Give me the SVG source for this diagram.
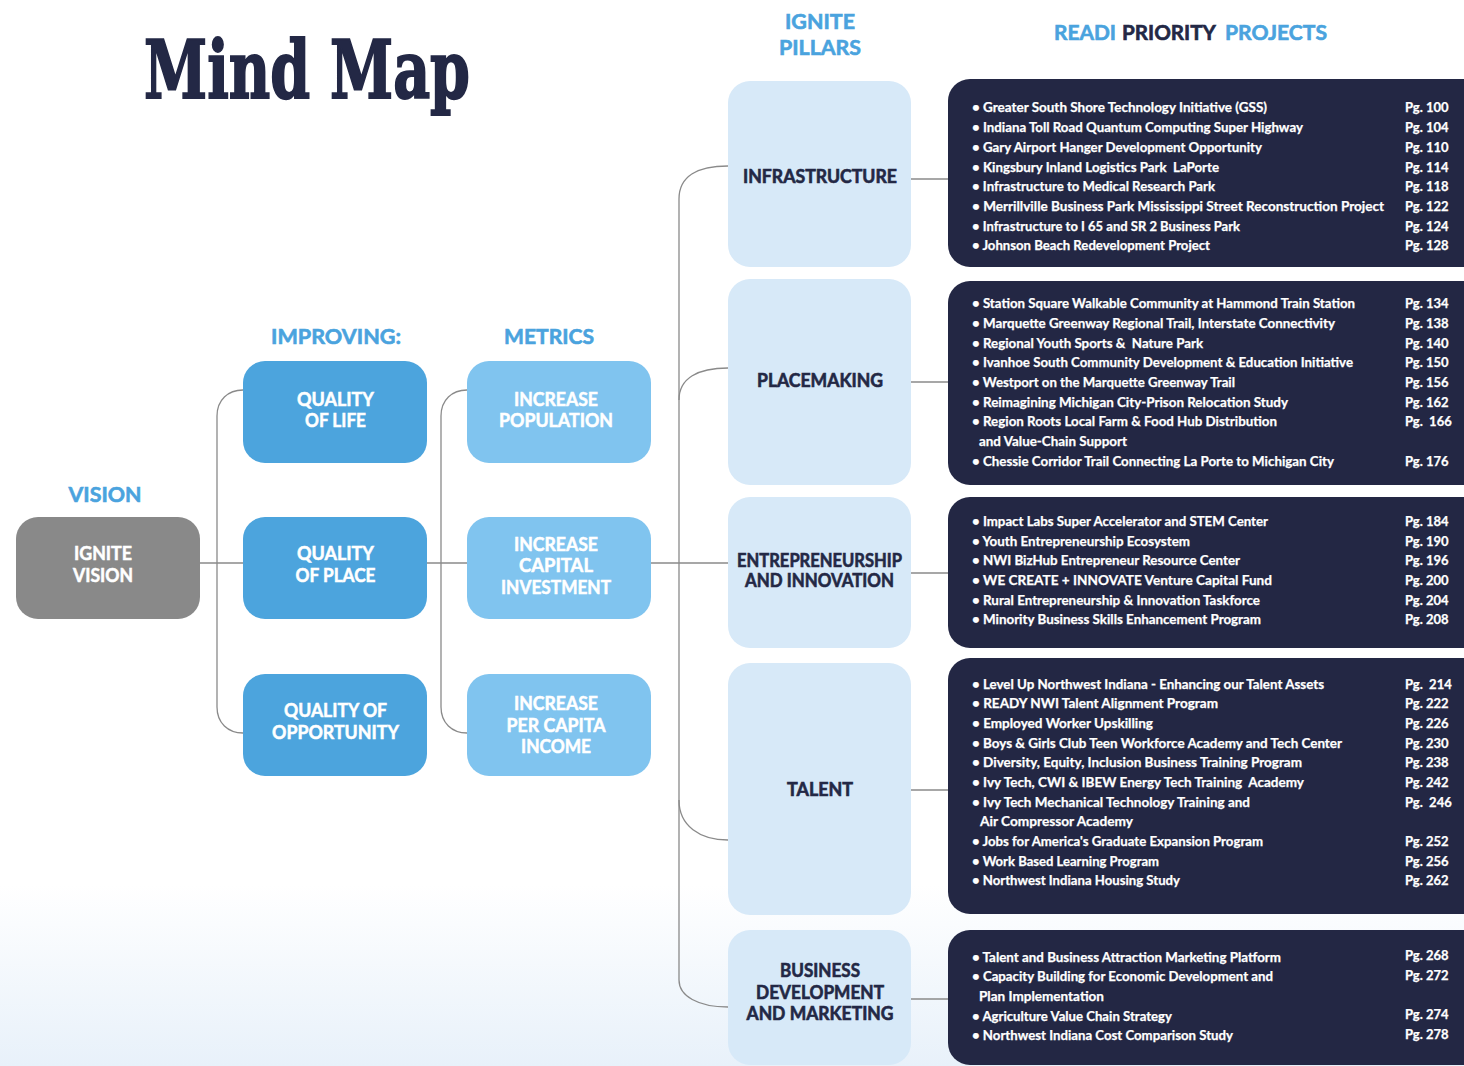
<svg xmlns="http://www.w3.org/2000/svg" width="1464" height="1066" viewBox="0 0 1464 1066">
<defs>
<linearGradient id="bg" x1="0" y1="0" x2="0" y2="1">
<stop offset="0.83" stop-color="#ffffff"/>
<stop offset="1" stop-color="#e8f1fa"/>
</linearGradient>
<style>
.hdr{font-family:Lato,"Open Sans",sans-serif;font-weight:700;font-size:21px;fill:#4aa3de;stroke:#4aa3de;stroke-width:0.6}
.hdr.dark{fill:#232845;stroke:#232845}
.lbl{font-family:Lato,"Open Sans",sans-serif;font-weight:700;font-size:18px;fill:#ffffff;stroke:#ffffff;stroke-width:0.5;text-anchor:middle}
.plbl{font-family:Lato,"Open Sans",sans-serif;font-weight:700;font-size:18px;fill:#232845;stroke:#232845;stroke-width:0.6;text-anchor:middle}
.it{font-family:Lato,"Open Sans",sans-serif;font-weight:700;font-size:13px;fill:#ffffff;stroke:#ffffff;stroke-width:0.25;white-space:pre}
.pg{font-family:Lato,"Open Sans",sans-serif;font-weight:700;font-size:13px;fill:#ffffff;stroke:#ffffff;stroke-width:0.25;white-space:pre}
.vis{fill:#898989}
.qual{fill:#4ca4dd}
.met{fill:#80c4ef}
.pil{fill:#d7e9f8}
.proj{fill:#232744}
.con{fill:none;stroke:#8a8a8a;stroke-width:1.3}
</style>
</defs>
<rect x="0" y="0" width="1464" height="1066" fill="url(#bg)"/>

<text x="144" y="98" font-family="'DejaVu Serif',serif" font-weight="700" font-size="80" fill="#232845" stroke="#232845" stroke-width="2" textLength="326" lengthAdjust="spacingAndGlyphs">Mind Map</text>

<g id="headers">
<text class="hdr" x="105" y="501.5" text-anchor="middle" textLength="73" lengthAdjust="spacingAndGlyphs">VISION</text>
<text class="hdr" x="336" y="343.5" text-anchor="middle" textLength="130" lengthAdjust="spacingAndGlyphs">IMPROVING:</text>
<text class="hdr" x="549" y="343.5" text-anchor="middle" textLength="90" lengthAdjust="spacingAndGlyphs">METRICS</text>
<text class="hdr" x="820" y="28.5" text-anchor="middle" textLength="70" lengthAdjust="spacingAndGlyphs">IGNITE</text>
<text class="hdr" x="820" y="54.5" text-anchor="middle" textLength="82" lengthAdjust="spacingAndGlyphs">PILLARS</text>
<text class="hdr" x="1054" y="39.5" textLength="62" lengthAdjust="spacingAndGlyphs">READI</text>
<text class="hdr dark" x="1122" y="39.5" textLength="94" lengthAdjust="spacingAndGlyphs">PRIORITY</text>
<text class="hdr" x="1225" y="39.5" textLength="102" lengthAdjust="spacingAndGlyphs">PROJECTS</text>
</g>

<g id="connectors">
<path class="con" d="M200,563 H243"/>
<path class="con" d="M243,390 C228,390 217,400 217,416 V707 C217,723 228,733 243,733"/>
<path class="con" d="M427,563 H467"/>
<path class="con" d="M467,390 C452,390 441,400 441,416 V707 C441,723 452,733 467,733"/>
<path class="con" d="M651,563 H728"/>
<path class="con" d="M728,166 C698,166 679,176 679,199 V980 C679,996 698,1007 728,1007"/>
<path class="con" d="M728,368 C698,368 679,378 679,400"/>
<path class="con" d="M679,800 C679,826 700,840 728,840"/>
<path class="con" d="M911,179 H948"/>
<path class="con" d="M911,382 H948"/>
<path class="con" d="M911,573 H948"/>
<path class="con" d="M911,790 H948"/>
<path class="con" d="M911,999 H948"/>
</g>

<g id="ignite-vision">
<rect class="vis" x="16" y="517" width="184" height="102" rx="22"/>
<text class="lbl" x="103" y="559.5" textLength="58" lengthAdjust="spacingAndGlyphs">IGNITE</text>
<text class="lbl" x="103" y="581.5" textLength="60" lengthAdjust="spacingAndGlyphs">VISION</text>
</g>

<g id="quality-of-life">
<rect class="qual" x="243" y="361" width="184" height="102" rx="22"/>
<text class="lbl" x="335.5" y="405.5" textLength="77" lengthAdjust="spacingAndGlyphs">QUALITY</text>
<text class="lbl" x="335.5" y="426.5" textLength="61" lengthAdjust="spacingAndGlyphs">OF LIFE</text>
</g>
<g id="quality-of-place">
<rect class="qual" x="243" y="517" width="184" height="102" rx="22"/>
<text class="lbl" x="335.5" y="559.5" textLength="77" lengthAdjust="spacingAndGlyphs">QUALITY</text>
<text class="lbl" x="335.5" y="581.5" textLength="80" lengthAdjust="spacingAndGlyphs">OF PLACE</text>
</g>
<g id="quality-of-opportunity">
<rect class="qual" x="243" y="674" width="184" height="102" rx="22"/>
<text class="lbl" x="335.5" y="716.5" textLength="103" lengthAdjust="spacingAndGlyphs">QUALITY OF</text>
<text class="lbl" x="335.5" y="738.5" textLength="127" lengthAdjust="spacingAndGlyphs">OPPORTUNITY</text>
</g>

<g id="increase-population">
<rect class="met" x="467" y="361" width="184" height="102" rx="22"/>
<text class="lbl" x="556" y="405.5" textLength="84" lengthAdjust="spacingAndGlyphs">INCREASE</text>
<text class="lbl" x="556" y="426.5" textLength="114" lengthAdjust="spacingAndGlyphs">POPULATION</text>
</g>
<g id="increase-capital-investment">
<rect class="met" x="467" y="517" width="184" height="102" rx="22"/>
<text class="lbl" x="556" y="550.5" textLength="84" lengthAdjust="spacingAndGlyphs">INCREASE</text>
<text class="lbl" x="556" y="571.5" textLength="74" lengthAdjust="spacingAndGlyphs">CAPITAL</text>
<text class="lbl" x="556" y="593.5" textLength="110" lengthAdjust="spacingAndGlyphs">INVESTMENT</text>
</g>
<g id="increase-per-capita-income">
<rect class="met" x="467" y="674" width="184" height="102" rx="22"/>
<text class="lbl" x="556" y="709.5" textLength="84" lengthAdjust="spacingAndGlyphs">INCREASE</text>
<text class="lbl" x="556" y="731.5" textLength="99" lengthAdjust="spacingAndGlyphs">PER CAPITA</text>
<text class="lbl" x="556" y="752.5" textLength="70" lengthAdjust="spacingAndGlyphs">INCOME</text>
</g>

<g id="pillar-infrastructure">
<rect class="pil" x="728" y="81" width="183" height="186" rx="22"/>
<text class="plbl" x="820" y="183" textLength="154" lengthAdjust="spacingAndGlyphs">INFRASTRUCTURE</text>
</g>
<g id="pillar-placemaking">
<rect class="pil" x="728" y="279" width="183" height="206" rx="22"/>
<text class="plbl" x="820" y="387" textLength="126" lengthAdjust="spacingAndGlyphs">PLACEMAKING</text>
</g>
<g id="pillar-entrepreneurship">
<rect class="pil" x="728" y="497" width="183" height="151" rx="22"/>
<text class="plbl" x="819.5" y="567" textLength="165" lengthAdjust="spacingAndGlyphs">ENTREPRENEURSHIP</text>
<text class="plbl" x="819.5" y="587" textLength="149" lengthAdjust="spacingAndGlyphs">AND INNOVATION</text>
</g>
<g id="pillar-talent">
<rect class="pil" x="728" y="663" width="183" height="252" rx="22"/>
<text class="plbl" x="820" y="796" textLength="66" lengthAdjust="spacingAndGlyphs">TALENT</text>
</g>
<g id="pillar-business">
<rect class="pil" x="728" y="930" width="183" height="135" rx="22"/>
<text class="plbl" x="820" y="977" textLength="80" lengthAdjust="spacingAndGlyphs">BUSINESS</text>
<text class="plbl" x="820" y="999" textLength="128" lengthAdjust="spacingAndGlyphs">DEVELOPMENT</text>
<text class="plbl" x="820" y="1020" textLength="147" lengthAdjust="spacingAndGlyphs">AND MARKETING</text>
</g>

<g id="projects-infrastructure">
<rect class="proj" x="948" y="79" width="540" height="188" rx="22"/>
<text class="it" x="972" y="112" textLength="295" lengthAdjust="spacingAndGlyphs">• Greater South Shore Technology Initiative (GSS)</text>
<text class="it" x="972" y="132" textLength="331" lengthAdjust="spacingAndGlyphs">• Indiana Toll Road Quantum Computing Super Highway</text>
<text class="it" x="972" y="152" textLength="290" lengthAdjust="spacingAndGlyphs">• Gary Airport Hanger Development Opportunity</text>
<text class="it" x="972" y="172" textLength="247" lengthAdjust="spacingAndGlyphs">• Kingsbury Inland Logistics Park  LaPorte</text>
<text class="it" x="972" y="191" textLength="243" lengthAdjust="spacingAndGlyphs">• Infrastructure to Medical Research Park</text>
<text class="it" x="972" y="211" textLength="412" lengthAdjust="spacingAndGlyphs">• Merrillville Business Park Mississippi Street Reconstruction Project</text>
<text class="it" x="972" y="231" textLength="268" lengthAdjust="spacingAndGlyphs">• Infrastructure to I 65 and SR 2 Business Park</text>
<text class="it" x="972" y="250" textLength="238" lengthAdjust="spacingAndGlyphs">• Johnson Beach Redevelopment Project</text>
<text class="pg" x="1405" y="112">Pg. 100</text>
<text class="pg" x="1405" y="132">Pg. 104</text>
<text class="pg" x="1405" y="152">Pg. 110</text>
<text class="pg" x="1405" y="172">Pg. 114</text>
<text class="pg" x="1405" y="191">Pg. 118</text>
<text class="pg" x="1405" y="211">Pg. 122</text>
<text class="pg" x="1405" y="231">Pg. 124</text>
<text class="pg" x="1405" y="250">Pg. 128</text>
</g>

<g id="projects-placemaking">
<rect class="proj" x="948" y="281" width="540" height="204" rx="22"/>
<text class="it" x="972" y="308" textLength="383" lengthAdjust="spacingAndGlyphs">• Station Square Walkable Community at Hammond Train Station</text>
<text class="it" x="972" y="328" textLength="363" lengthAdjust="spacingAndGlyphs">• Marquette Greenway Regional Trail, Interstate Connectivity</text>
<text class="it" x="972" y="348" textLength="231" lengthAdjust="spacingAndGlyphs">• Regional Youth Sports &amp;  Nature Park</text>
<text class="it" x="972" y="367" textLength="381" lengthAdjust="spacingAndGlyphs">• Ivanhoe South Community Development &amp; Education Initiative</text>
<text class="it" x="972" y="387" textLength="263" lengthAdjust="spacingAndGlyphs">• Westport on the Marquette Greenway Trail</text>
<text class="it" x="972" y="407" textLength="316" lengthAdjust="spacingAndGlyphs">• Reimagining Michigan City-Prison Relocation Study</text>
<text class="it" x="972" y="426" textLength="305" lengthAdjust="spacingAndGlyphs">• Region Roots Local Farm &amp; Food Hub Distribution</text>
<text class="it" x="979" y="446" textLength="148" lengthAdjust="spacingAndGlyphs">and Value-Chain Support</text>
<text class="it" x="972" y="466" textLength="362" lengthAdjust="spacingAndGlyphs">• Chessie Corridor Trail Connecting La Porte to Michigan City</text>
<text class="pg" x="1405" y="308">Pg. 134</text>
<text class="pg" x="1405" y="328">Pg. 138</text>
<text class="pg" x="1405" y="348">Pg. 140</text>
<text class="pg" x="1405" y="367">Pg. 150</text>
<text class="pg" x="1405" y="387">Pg. 156</text>
<text class="pg" x="1405" y="407">Pg. 162</text>
<text class="pg" x="1405" y="426">Pg.  166</text>
<text class="pg" x="1405" y="466">Pg. 176</text>
</g>

<g id="projects-entrepreneurship">
<rect class="proj" x="948" y="497" width="540" height="151" rx="22"/>
<text class="it" x="972" y="526" textLength="296" lengthAdjust="spacingAndGlyphs">• Impact Labs Super Accelerator and STEM Center</text>
<text class="it" x="972" y="546" textLength="218" lengthAdjust="spacingAndGlyphs">• Youth Entrepreneurship Ecosystem</text>
<text class="it" x="972" y="565" textLength="268" lengthAdjust="spacingAndGlyphs">• NWI BizHub Entrepreneur Resource Center</text>
<text class="it" x="972" y="585" textLength="300" lengthAdjust="spacingAndGlyphs">• WE CREATE + INNOVATE Venture Capital Fund</text>
<text class="it" x="972" y="605" textLength="288" lengthAdjust="spacingAndGlyphs">• Rural Entrepreneurship &amp; Innovation Taskforce</text>
<text class="it" x="972" y="624" textLength="289" lengthAdjust="spacingAndGlyphs">• Minority Business Skills Enhancement Program</text>
<text class="pg" x="1405" y="526">Pg. 184</text>
<text class="pg" x="1405" y="546">Pg. 190</text>
<text class="pg" x="1405" y="565">Pg. 196</text>
<text class="pg" x="1405" y="585">Pg. 200</text>
<text class="pg" x="1405" y="605">Pg. 204</text>
<text class="pg" x="1405" y="624">Pg. 208</text>
</g>

<g id="projects-talent">
<rect class="proj" x="948" y="658" width="540" height="256" rx="22"/>
<text class="it" x="972" y="689" textLength="352" lengthAdjust="spacingAndGlyphs">• Level Up Northwest Indiana - Enhancing our Talent Assets</text>
<text class="it" x="972" y="708" textLength="246" lengthAdjust="spacingAndGlyphs">• READY NWI Talent Alignment Program</text>
<text class="it" x="972" y="728" textLength="181" lengthAdjust="spacingAndGlyphs">• Employed Worker Upskilling</text>
<text class="it" x="972" y="748" textLength="370" lengthAdjust="spacingAndGlyphs">• Boys &amp; Girls Club Teen Workforce Academy and Tech Center</text>
<text class="it" x="972" y="767" textLength="330" lengthAdjust="spacingAndGlyphs">• Diversity, Equity, Inclusion Business Training Program</text>
<text class="it" x="972" y="787" textLength="332" lengthAdjust="spacingAndGlyphs">• Ivy Tech, CWI &amp; IBEW Energy Tech Training  Academy</text>
<text class="it" x="972" y="807" textLength="278" lengthAdjust="spacingAndGlyphs">• Ivy Tech Mechanical Technology Training and</text>
<text class="it" x="980" y="826" textLength="153" lengthAdjust="spacingAndGlyphs">Air Compressor Academy</text>
<text class="it" x="972" y="846" textLength="291" lengthAdjust="spacingAndGlyphs">• Jobs for America's Graduate Expansion Program</text>
<text class="it" x="972" y="866" textLength="187" lengthAdjust="spacingAndGlyphs">• Work Based Learning Program</text>
<text class="it" x="972" y="885" textLength="208" lengthAdjust="spacingAndGlyphs">• Northwest Indiana Housing Study</text>
<text class="pg" x="1405" y="689">Pg.  214</text>
<text class="pg" x="1405" y="708">Pg. 222</text>
<text class="pg" x="1405" y="728">Pg. 226</text>
<text class="pg" x="1405" y="748">Pg. 230</text>
<text class="pg" x="1405" y="767">Pg. 238</text>
<text class="pg" x="1405" y="787">Pg. 242</text>
<text class="pg" x="1405" y="807">Pg.  246</text>
<text class="pg" x="1405" y="846">Pg. 252</text>
<text class="pg" x="1405" y="866">Pg. 256</text>
<text class="pg" x="1405" y="885">Pg. 262</text>
</g>

<g id="projects-business">
<rect class="proj" x="948" y="930" width="540" height="135" rx="22"/>
<text class="it" x="972" y="962" textLength="309" lengthAdjust="spacingAndGlyphs">• Talent and Business Attraction Marketing Platform</text>
<text class="it" x="972" y="981" textLength="301" lengthAdjust="spacingAndGlyphs">• Capacity Building for Economic Development and</text>
<text class="it" x="979" y="1001" textLength="125" lengthAdjust="spacingAndGlyphs">Plan Implementation</text>
<text class="it" x="972" y="1021" textLength="200" lengthAdjust="spacingAndGlyphs">• Agriculture Value Chain Strategy</text>
<text class="it" x="972" y="1040" textLength="261" lengthAdjust="spacingAndGlyphs">• Northwest Indiana Cost Comparison Study</text>
<text class="pg" x="1405" y="960">Pg. 268</text>
<text class="pg" x="1405" y="980">Pg. 272</text>
<text class="pg" x="1405" y="1019">Pg. 274</text>
<text class="pg" x="1405" y="1039">Pg. 278</text>
</g>
</svg>
